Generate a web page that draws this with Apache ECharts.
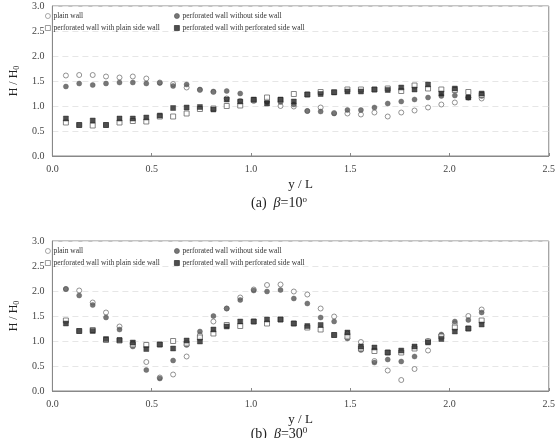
<!DOCTYPE html>
<html><head><meta charset="utf-8">
<script src="https://cdn.jsdelivr.net/npm/echarts@6/dist/echarts.min.js"></script>
<style>html,body{margin:0;padding:0;background:#fff}#c{width:558px;height:438px}</style>
</head><body><div id="c"></div>
<script>
const xVals = [0.068,0.135,0.203,0.270,0.338,0.405,0.473,0.541,0.608,0.676,0.743,0.811,0.878,0.946,1.014,1.081,1.149,1.216,1.284,1.351,1.419,1.486,1.554,1.622,1.689,1.757,1.824,1.892,1.959,2.027,2.095,2.162];
const seriesNames = ['plain wall','perforated wall without side wall','perforated wall with plain side wall','perforated wall with perforated side wall'];
const xTicks = [0,0.5,1.0,1.5,2.0,2.5];
const yTicks = [0,0.5,1.0,1.5,2.0,2.5,3.0];
// beta = 10
const plainA = [1.61,1.62,1.62,1.59,1.57,1.59,1.55,1.47,1.44,1.37,1.32,1.28,1.15,1.10,1.10,1.10,1.00,0.99,0.90,0.97,0.86,0.85,0.83,0.87,0.79,0.87,0.91,0.97,1.03,1.07,1.17,1.15];
const perfA = [1.39,1.45,1.42,1.45,1.47,1.47,1.45,1.46,1.40,1.43,1.33,1.29,1.30,1.25,1.12,1.08,1.08,1.03,0.90,0.89,0.85,0.92,0.92,0.97,1.05,1.09,1.13,1.17,1.20,1.21,1.17,1.20];
const plainSideA = [0.67,0.62,0.61,0.62,0.67,0.70,0.69,0.79,0.79,0.85,0.94,0.95,1.00,1.01,1.12,1.17,1.12,1.24,1.23,1.28,1.28,1.33,1.33,1.33,1.35,1.30,1.41,1.35,1.33,1.32,1.28,1.22];
const perfSideA = [0.75,0.62,0.71,0.62,0.75,0.75,0.77,0.81,0.96,0.97,0.98,0.93,1.13,1.09,1.13,1.05,1.13,1.09,1.23,1.24,1.27,1.29,1.29,1.33,1.32,1.37,1.33,1.43,1.25,1.35,1.17,1.25];
// beta = 30
const plainB = [2.04,2.01,1.77,1.57,1.29,0.95,0.58,0.27,0.33,0.69,1.12,1.39,1.65,1.87,2.03,2.12,2.13,1.99,1.93,1.65,1.49,1.15,0.98,0.60,0.41,0.22,0.44,0.81,1.11,1.35,1.50,1.63];
const perfB = [2.04,1.91,1.72,1.47,1.23,0.89,0.42,0.25,0.61,0.92,1.19,1.50,1.65,1.82,2.01,1.99,2.02,1.85,1.75,1.47,1.39,1.05,0.82,0.57,0.63,0.59,0.69,1.00,1.13,1.39,1.42,1.57];
const plainSideB = [1.41,1.20,1.22,1.02,1.01,0.93,0.92,0.93,1.00,0.95,1.07,1.15,1.32,1.30,1.39,1.35,1.43,1.35,1.27,1.23,1.12,1.09,0.85,0.80,0.77,0.77,0.85,0.99,1.09,1.27,1.25,1.41];
const perfSideB = [1.35,1.20,1.20,1.04,1.02,0.97,0.84,0.93,0.85,1.01,0.99,1.23,1.29,1.39,1.39,1.43,1.43,1.35,1.30,1.32,1.12,1.17,0.89,0.87,0.77,0.81,0.89,0.97,1.04,1.19,1.25,1.33];

const FONT = 'Liberation Serif';
const TXT = '#444';
const styles = [
  {symbol:'circle', itemStyle:{color:'#fff', borderColor:'#777', borderWidth:1}},
  {symbol:'circle', itemStyle:{color:'#555', borderColor:'#555', borderWidth:0.5}},
  {symbol:'rect', itemStyle:{color:'#fff', borderColor:'#666', borderWidth:1}},
  {symbol:'rect', itemStyle:{color:'#222', borderColor:'#222', borderWidth:0.5}}
];
const zip = a => a.map((v,i)=>[xVals[i], v]);
const groups = [[plainA,perfA,plainSideA,perfSideA],[plainB,perfB,plainSideB,perfSideB]];
const series = [];
groups.forEach((g,gi)=>{
  g.forEach((arr,si)=>{
    series.push(Object.assign({
      type:'scatter', name: seriesNames[si], xAxisIndex: gi, yAxisIndex: gi,
      symbolSize: 5, data: zip(arr), animation:false
    }, JSON.parse(JSON.stringify(styles[si]))));
  });
});
const tops = [6, 241];
const grids = tops.map(t=>({left:37, right:8, top:t, height:150, show:true, borderColor:'#888', borderWidth:1}));
const xAxes = tops.map((t,i)=>({
  type:'value', gridIndex:i, min:xTicks[0], max:xTicks[xTicks.length-1], interval:0.5,
  axisLine:{show:true, lineStyle:{color:'#888'}}, axisTick:{show:true, inside:true, length:3, lineStyle:{color:'#888'}},
  splitLine:{show:false},
  axisLabel:{formatter:v=>v.toFixed(1), color:TXT, fontFamily:FONT, fontSize:10, margin:8},
  name:'y / L', nameLocation:'middle', nameGap:22,
  nameTextStyle:{color:'#222', fontFamily:FONT, fontSize:13}
}));
const yAxes = tops.map((t,i)=>({
  type:'value', gridIndex:i, min:yTicks[0], max:yTicks[yTicks.length-1], interval:0.5,
  axisLine:{show:true, lineStyle:{color:'#888'}}, axisTick:{show:false},
  splitLine:{show:true, lineStyle:{color:'#e6e6e6', type:[6,4], width:1}},
  axisLabel:{formatter:v=>v.toFixed(1), color:TXT, fontFamily:FONT, fontSize:10, margin:8},
  name:'{a|H / H}{s|0}', nameLocation:'middle', nameGap:27, nameRotate:90,
  nameTextStyle:{rich:{a:{color:'#222', fontFamily:FONT, fontSize:12}, s:{color:'#222', fontFamily:FONT, fontSize:8, padding:[6,0,0,0]}}}
}));
const legendBase = {orient:'vertical', itemWidth:5, itemHeight:5, itemGap:4, padding:0,
  itemStyle:{borderWidth:0.8},
  textStyle:{color:'#333', fontFamily:FONT, fontSize:7.5, padding:[0,0,0,-2]}, selectedMode:false};
const legends = [];
tops.forEach(t=>{
  legends.push(Object.assign({left:45, top:t+6, data:[seriesNames[0], seriesNames[2]]}, legendBase));
  legends.push(Object.assign({left:174, top:t+6, data:[seriesNames[1], seriesNames[3]]}, legendBase));
});
const chart = echarts.init(document.getElementById('c'), null, {renderer:'canvas'});
chart.setOption({
  animation:false,
  grid: grids, xAxis: xAxes, yAxis: yAxes, legend: legends, series: series,
  graphic:[
    {type:'text', left:'center', top:195, style:{text:'(a)  {i|β}=10{s|o}', fontFamily:FONT, fontSize:14, fill:'#222',
      rich:{i:{fontStyle:'italic', fontFamily:FONT, fontSize:14, fill:'#222'}, s:{fontFamily:FONT, fontSize:9, padding:[0,0,8,0], fill:'#222'}}}},
    {type:'text', left:'center', top:426, style:{text:'(b)  {i|β}=30{s|0}', fontFamily:FONT, fontSize:14, fill:'#222',
      rich:{i:{fontStyle:'italic', fontFamily:FONT, fontSize:14, fill:'#222'}, s:{fontFamily:FONT, fontSize:9, padding:[0,0,8,0], fill:'#222'}}}}
  ]
});
</script></body></html>
